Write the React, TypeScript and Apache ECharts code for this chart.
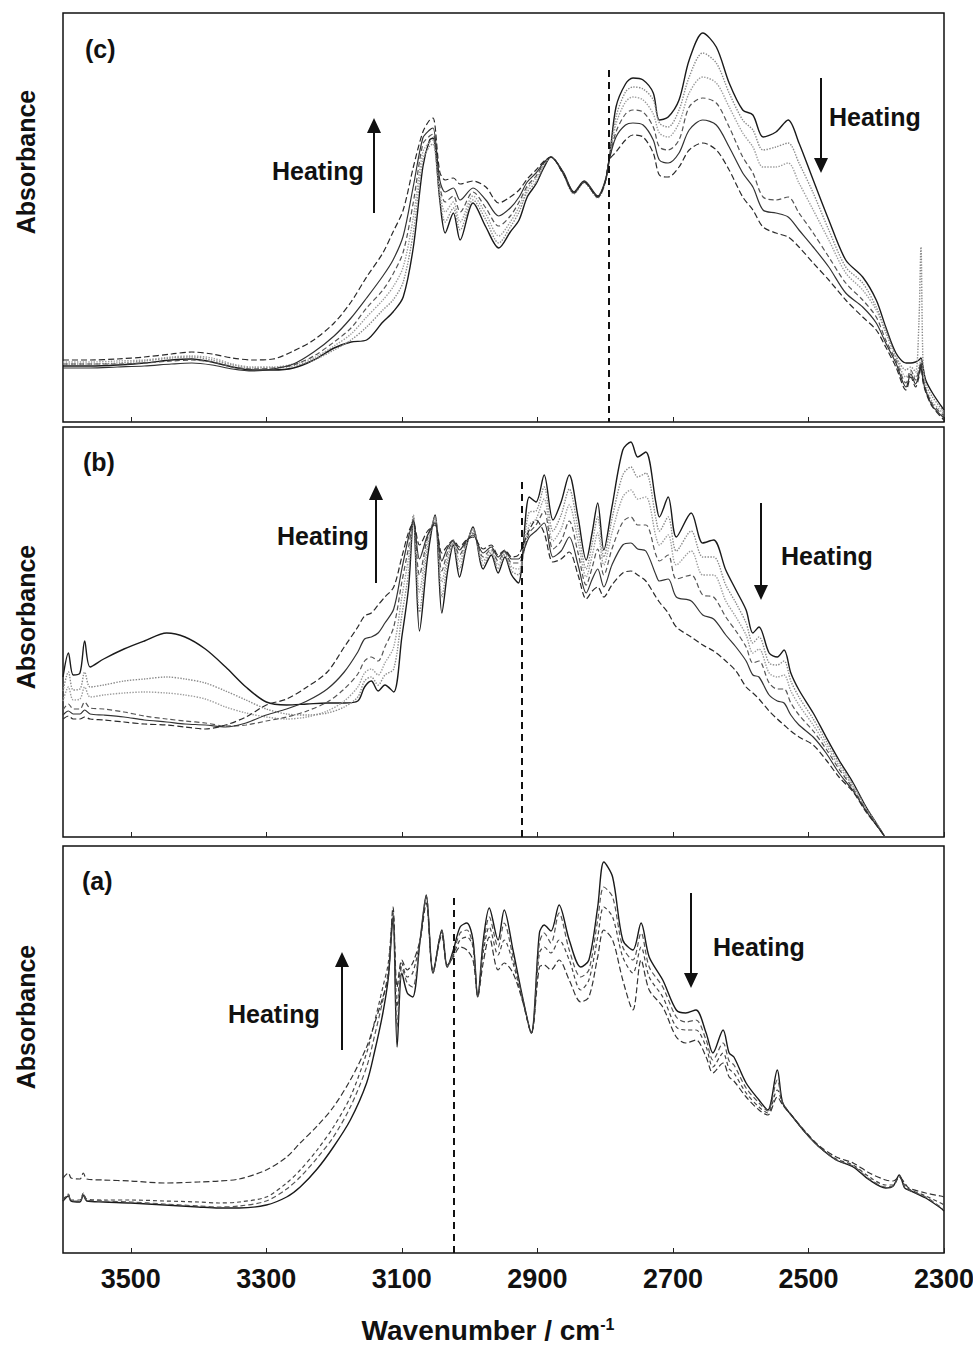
import React, { useEffect, useRef } from "react";
import * as echarts from "echarts";

const FONT = '"Liberation Sans", Arial, Helvetica, sans-serif';
const TICKS = [3500, 3300, 3100, 2900, 2700, 2500, 2300];

// ---------- Panel (c) ----------
const C_X = [3600,3560,3520,3480,3440,3410,3380,3350,3320,3290,
 3260,3230,3200,3175,3152,3128,3113,3098,3083,3069,
 3059,3054,3044,3036,3024,3014,2995,2976,2957,2940,
 2927,2915,2902,2890,2880,2862,2846,2831,2811,2800,
 2794,2784,2770,2759,2744,2729,2720,2707,2691,2676,
 2656,2636,2617,2597,2582,2567,2548,2530,2514,2493,
 2470,2445,2420,2400,2386,2371,2356,2349,2342,2337,
 2334,2331,2327,2317,2300];
const C0 = [56,56,57,59,62,63,60,55,52,52,
 54,62,74,80,82,100,110,125,175,255,
 282,284,222,189,209,182,219,195,174,190,
 202,225,238,255,265,250,230,241,226,241,
 262,315,338,344,342,329,302,305,322,362,
 389,375,339,312,307,285,290,302,279,242,
 202,162,145,122,95,69,59,59,60,62,
 64,55,42,29,12];
const C1 = [58,58,59,61,64,65,62,57,54,54,
 56,62,72,82,95,112,122,140,190,262,
 276,278,225,200,214,192,222,202,179,195,
 210,230,240,257,265,249,229,240,225,240,
 262,305,330,335,333,322,299,295,312,345,
 369,359,329,302,292,272,275,279,259,229,
 192,155,139,115,92,66,52,55,50,100,
 175,60,38,25,10];
const C2 = [60,60,61,62,65,66,64,58,55,55,
 58,64,76,88,105,122,135,155,205,270,
 280,282,230,210,220,200,226,208,186,200,
 215,233,244,258,265,248,228,239,224,239,
 262,298,320,325,322,308,289,285,299,329,
 345,339,315,289,275,255,255,259,239,212,
 182,149,132,112,89,65,45,50,45,55,
 62,48,34,20,8];
const C3 = [58,58,58,59,61,62,60,55,53,54,
 57,66,80,94,114,132,148,170,220,278,
 286,288,236,220,226,210,230,214,196,206,
 220,236,246,259,265,248,229,240,225,240,
 262,290,308,312,310,295,275,272,282,315,
 324,319,295,265,249,225,222,225,209,189,
 165,139,122,105,82,62,39,52,42,52,
 60,45,33,18,6];
const C4 = [54,54,55,56,58,59,57,53,51,53,
 58,70,86,104,124,146,162,186,236,284,
 292,294,242,230,234,222,234,222,206,214,
 225,240,249,260,265,249,230,240,225,240,
 262,285,297,299,297,282,262,259,269,292,
 302,297,275,249,235,212,209,205,192,175,
 155,129,115,99,79,59,35,48,38,48,
 58,42,31,16,4];
const C5 = [62,62,63,65,68,70,68,64,62,63,
 71,82,99,120,145,169,190,212,255,290,
 302,304,250,242,244,238,241,235,219,225,
 232,243,252,261,265,249,229,240,225,240,
 262,270,282,287,285,269,247,245,255,272,
 279,272,252,225,212,195,189,185,175,159,
 142,122,105,92,75,55,32,45,35,45,
 55,40,30,15,2];

// ---------- Panel (b) ----------
const B_X = [3600,3592,3585,3575,3568,3560,3540,3510,3480,3447,
 3420,3390,3360,3330,3300,3270,3240,3210,3185,3165,
 3155,3145,3135,3125,3112,3100,3090,3083,3074,3062,
 3051,3041,3032,3024,3015,3005,2995,2980,2968,2958,
 2948,2938,2928,2912,2902,2890,2877,2865,2853,2840,
 2828,2819,2811,2802,2790,2774,2762,2752,2740,2725,
 2720,2707,2695,2673,2656,2640,2622,2607,2592,2582,
 2573,2558,2546,2536,2526,2514,2493,2474,2455,2434,
 2415,2400,2388];
const B0 = [160,184,162,164,196,170,178,188,196,204,
 200,188,170,150,135,132,133,134,134,136,
 150,156,146,152,145,200,250,318,206,280,
 322,224,268,292,260,290,310,268,282,264,
 280,262,254,340,335,362,317,335,362,320,
 277,305,334,287,330,387,395,380,385,334,
 320,340,300,324,294,297,267,247,227,204,
 210,184,180,187,164,147,124,100,77,54,
 30,14,1];
const B1 = [146,165,147,148,165,150,152,156,158,160,
 158,154,146,137,128,123,122,124,130,140,
 156,160,152,162,168,222,265,322,225,290,
 320,240,276,294,268,292,308,272,284,268,
 282,266,262,325,326,350,306,322,348,308,
 268,294,320,280,318,362,370,360,364,318,
 306,320,286,306,280,280,252,234,214,194,
 200,174,172,176,156,140,118,96,74,52,
 29,14,1];
const B2 = [136,150,137,138,150,140,142,144,145,144,
 142,138,130,124,120,118,120,126,136,150,
 164,168,162,174,190,240,280,320,245,298,
 318,255,282,295,276,294,306,276,286,272,
 284,270,268,312,318,338,296,308,332,296,
 260,282,304,272,304,340,347,338,340,300,
 292,302,272,286,262,262,236,220,202,184,
 188,164,160,162,146,132,112,92,71,50,
 28,13,1];
const B3 = [127,133,128,128,135,129,128,125,121,118,
 116,114,111,112,116,120,126,135,148,163,
 176,180,176,190,210,255,290,318,262,300,
 316,266,286,295,282,295,304,280,288,276,
 285,274,274,304,312,326,288,296,316,284,
 252,270,288,262,288,315,320,312,312,282,
 276,282,258,262,242,240,220,206,190,174,
 176,154,148,148,134,122,106,88,68,48,
 27,13,1];
const B4 = [122,126,123,123,127,123,122,120,117,115,
 113,112,110,114,122,128,136,148,165,185,
 198,200,204,214,228,268,300,316,278,302,
 314,276,290,296,287,296,302,284,290,280,
 286,278,278,300,306,314,280,286,300,272,
 244,258,268,250,272,292,294,288,286,262,
 256,258,240,236,222,218,202,190,176,162,
 160,142,136,134,122,112,100,84,64,46,
 26,12,1];
const B5 = [118,121,118,118,120,118,117,115,113,112,
 110,108,112,120,132,138,150,165,190,210,
 221,224,232,240,250,280,305,314,292,306,
 312,284,292,297,290,297,300,288,292,282,
 287,280,282,307,317,304,275,278,285,262,
 238,246,250,240,252,264,266,262,256,240,
 235,224,210,200,192,186,176,166,150,144,
 138,126,118,112,106,100,92,77,60,45,
 25,12,1];

// ---------- Panel (a) ----------
const A_X = [3600,3592,3588,3575,3570,3565,3540,3500,3450,3400,
 3370,3340,3300,3270,3250,3225,3201,3176,3152,3140,
 3128,3120,3113,3107,3100,3092,3084,3073,3064,3054,
 3041,3033,3024,3014,3004,2995,2988,2980,2971,2958,
 2949,2936,2921,2909,2897,2890,2880,2868,2853,2836,
 2824,2811,2802,2789,2774,2759,2747,2735,2715,2695,
 2681,2666,2651,2641,2626,2617,2610,2592,2573,2560,
 2546,2538,2523,2504,2484,2459,2434,2410,2386,2375,
 2366,2358,2352,2327,2305,2300];
const A0 = [52,57,52,51,58,52,51,50,48,46,
 45,45,48,56,66,84,106,133,170,202,
 240,275,336,206,280,260,256,313,358,280,
 323,286,303,326,330,313,256,312,345,313,
 343,303,253,220,320,328,322,348,313,286,
 293,346,391,376,313,303,330,296,273,243,
 240,243,220,200,223,200,196,170,153,143,
 183,150,136,120,106,93,86,73,65,67,
 78,65,63,55,45,42];
const A1 = [53,58,52,52,59,53,52,51,49,47,
 46,47,52,64,76,95,116,146,186,218,
 253,282,338,226,286,270,266,313,357,280,
 322,286,300,320,323,306,256,306,336,306,
 330,296,252,220,310,320,310,340,303,276,
 283,333,366,356,306,293,320,286,266,236,
 231,233,213,193,210,192,188,165,150,142,
 173,150,136,120,106,93,87,74,66,67,
 77,66,63,56,46,44];
const A2 = [53,59,53,53,60,54,53,53,52,51,
 50,51,56,70,83,103,126,156,200,232,
 266,290,340,246,290,276,280,313,356,280,
 321,286,298,313,316,306,256,300,326,298,
 313,290,250,220,300,306,300,313,293,263,
 273,316,346,336,296,280,306,276,256,226,
 223,223,206,186,200,184,180,160,146,140,
 163,150,136,120,106,94,88,76,68,68,
 76,68,64,57,50,48];
const A3 = [75,80,75,74,80,74,73,72,70,71,
 72,74,83,96,110,127,146,173,206,230,
 256,276,346,266,293,283,290,313,350,282,
 318,288,296,306,303,293,258,290,316,283,
 290,280,250,220,286,288,283,293,273,251,
 256,296,323,313,273,243,293,263,246,216,
 210,213,196,180,190,176,172,156,143,138,
 156,148,136,121,107,96,90,80,73,72,
 76,70,65,60,57,56];

const STYLE6 = [
  { type: "solid", color: "#1a1a1a", width: 1.4 },
  { type: "dotted", color: "#8a8a8a", width: 1.4 },
  { type: "dotted", color: "#9c9c9c", width: 1.4 },
  { type: [5, 3], color: "#555", width: 1.2 },
  { type: "solid", color: "#333", width: 1.2 },
  { type: [6, 3], color: "#2a2a2a", width: 1.2 },
];
const STYLE4 = [
  { type: "solid", color: "#1a1a1a", width: 1.4 },
  { type: [5, 3], color: "#555", width: 1.2 },
  { type: [4, 3], color: "#444", width: 1.2 },
  { type: [6, 3], color: "#333", width: 1.2 },
];

const PANELS = [
  { label: "(c)", top: 13, height: 409, xs: C_X, curves: [C0, C1, C2, C3, C4, C5], styles: STYLE6, dash: 2794, dashTop: 352 },
  { label: "(b)", top: 427, height: 410, xs: B_X, curves: [B0, B1, B2, B3, B4, B5], styles: STYLE6, dash: 2923, dashTop: 355 },
  { label: "(a)", top: 846, height: 407, xs: A_X, curves: [A0, A1, A2, A3], styles: STYLE4, dash: 3024, dashTop: 355 },
];

const GRID_LEFT = 63;
const GRID_WIDTH = 881;

function txt(text: string, x: number, y: number, size: number, align = "left", rotation = 0) {
  return {
    type: "text",
    x,
    y,
    rotation,
    style: { text, fontSize: size, fontWeight: "bold", fontFamily: FONT, fill: "#111", align, verticalAlign: "middle" },
  };
}

function arrow(x: number, tail: number, tip: number) {
  const dir = tip < tail ? 1 : -1; // 1 = pointing up
  const base = tip + dir * 15;
  return [
    { type: "line", shape: { x1: x, y1: tail, x2: x, y2: base }, style: { stroke: "#111", lineWidth: 2 } },
    { type: "polygon", shape: { points: [[x - 7, base], [x + 7, base], [x, tip]] }, style: { fill: "#111" } },
  ];
}

export default function App() {
  const ref = useRef<HTMLDivElement>(null);
  useEffect(() => {
    if (!ref.current) return;
    const chart = echarts.init(ref.current, undefined, { renderer: "svg" });

    const grid = PANELS.map((p) => ({
      left: GRID_LEFT, top: p.top, width: GRID_WIDTH, height: p.height,
      show: true, borderColor: "#111", borderWidth: 1.5, containLabel: false,
      outerBoundsMode: "none",
    }));
    const xAxis = PANELS.map((p, i) => ({
      type: "value", gridIndex: i, inverse: true, min: 2300, max: 3600,
      axisLine: { show: false }, splitLine: { show: false },
      axisTick: { show: true, inside: true, length: 5, customValues: TICKS, lineStyle: { color: "#222", width: 1 } },
      axisLabel: {
        show: i === 2, customValues: TICKS, fontSize: 27, fontWeight: "bold",
        fontFamily: FONT, color: "#111", margin: 12,
        formatter: (v: number) => String(Math.round(v)),
      },
    }));
    const yAxis = PANELS.map((p, i) => ({ type: "value", gridIndex: i, min: 0, max: p.height, show: false }));

    const series: any[] = [];
    PANELS.forEach((p, i) => {
      p.curves.forEach((vals, k) => {
        const n = Math.min(vals.length, p.xs.length);
        const data = [];
        for (let j = 0; j < n; j++) data.push([p.xs[j], vals[j]]);
        const st = p.styles[k];
        const s: any = {
          type: "line", xAxisIndex: i, yAxisIndex: i, data, symbol: "none", showSymbol: false,
          smooth: 0.3, silent: true,
          lineStyle: { type: st.type, color: st.color, width: st.width },
        };
        if (k === 0) {
          s.markLine = {
            silent: true, symbol: ["none", "none"], label: { show: false },
            lineStyle: { type: [7, 5], color: "#111", width: 2 },
            data: [[{ coord: [p.dash, p.dashTop] }, { coord: [p.dash, 0] }]],
          };
        }
        series.push(s);
      });
    });

    const graphics: any[] = [
      txt("(c)", 85, 49, 25),
      txt("(b)", 83, 462, 25),
      txt("(a)", 82, 881, 25),
      txt("Absorbance", 26, 162, 25, "center", Math.PI / 2),
      txt("Absorbance", 26, 617, 25, "center", Math.PI / 2),
      txt("Absorbance", 26, 1017, 25, "center", Math.PI / 2),
      txt("Heating", 272, 171, 25),
      txt("Heating", 829, 117, 25),
      txt("Heating", 277, 536, 25),
      txt("Heating", 781, 556, 25),
      txt("Heating", 228, 1014, 25),
      txt("Heating", 713, 947, 25),
      ...arrow(374, 213, 118),
      ...arrow(821, 78, 173),
      ...arrow(376, 583, 485),
      ...arrow(761, 503, 600),
      ...arrow(342, 1050, 952),
      ...arrow(691, 893, 988),
      {
        type: "text", x: 488, y: 1330,
        style: {
          text: "{m|Wavenumber / cm}{s|-1}", align: "center", verticalAlign: "middle",
          rich: {
            m: { fontSize: 28, fontWeight: "bold", fontFamily: FONT, fill: "#111" },
            s: { fontSize: 16, fontWeight: "bold", fontFamily: FONT, fill: "#111", verticalAlign: "top" },
          },
        },
      },
    ];

    chart.setOption({
      animation: false,
      backgroundColor: "#ffffff",
      grid, xAxis, yAxis, series,
      graphic: { elements: graphics },
    });
    return () => chart.dispose();
  }, []);
  return <div ref={ref} style={{ position: "absolute", left: 0, top: 0, width: 973, height: 1348 }} />;
}
